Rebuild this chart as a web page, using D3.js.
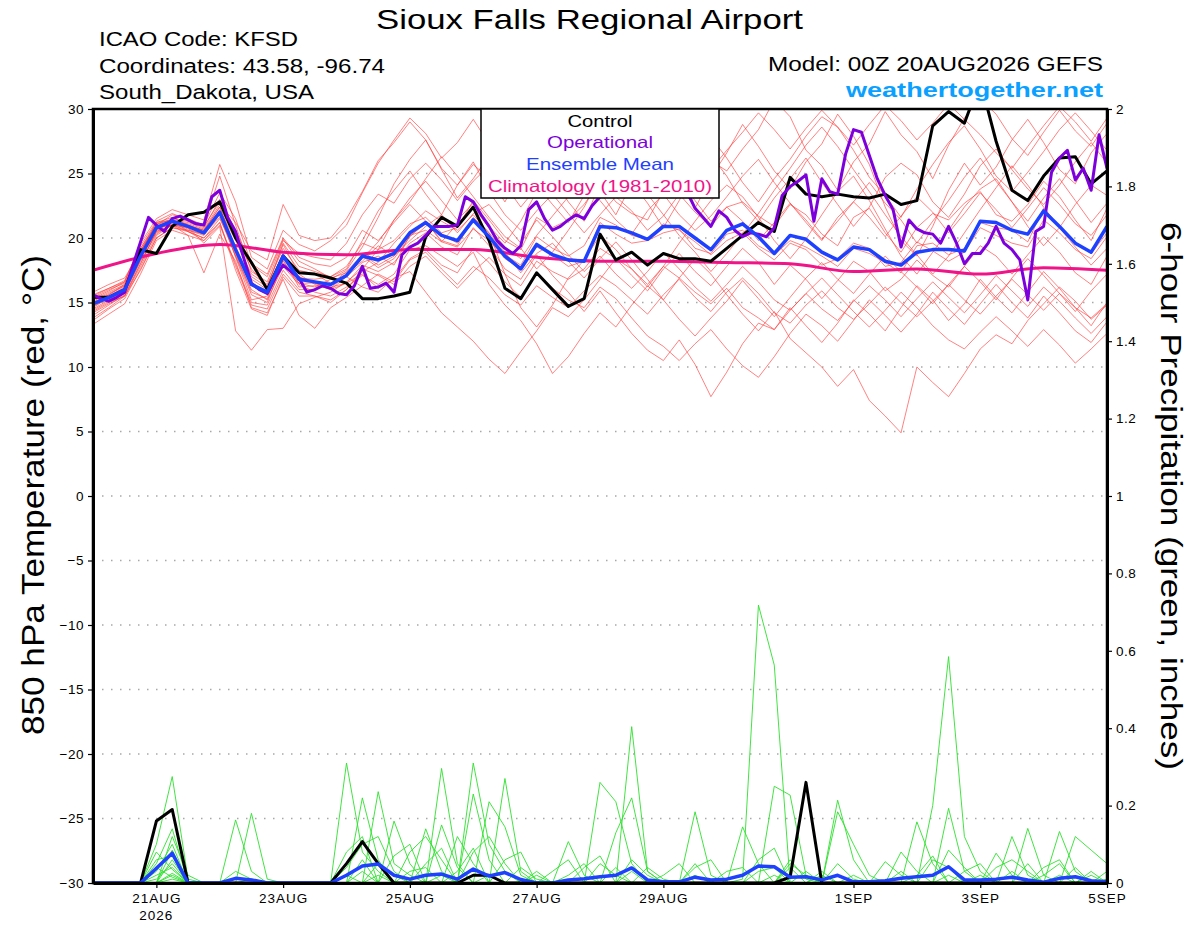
<!DOCTYPE html>
<html>
<head>
<meta charset="utf-8">
<script src="https://d3js.org/d3.v7.min.js"></script>
<style>
body { margin: 0; background: #fff; }
text { font-family: "Liberation Sans", Arial, Helvetica, sans-serif; }
</style>
</head>
<body>
<div id="my_dataviz"></div>
<script>
var controlTemp = [
  15.4,15.4,16.0,19.1,18.8,20.9,21.8,22.0,
  22.8,20.0,18.1,16.0,18.6,17.3,17.2,16.9,
  16.5,15.3,15.3,15.5,15.8,20.1,21.6,20.9,
  22.4,19.8,16.1,15.3,17.3,16.0,14.7,15.3,
  20.3,18.3,18.9,17.9,18.8,18.4,18.4,18.2,
  19.2,20.2,21.2,20.5,24.7,23.4,23.2,23.4,
  23.2,23.1,23.4,22.6,22.9,28.7,29.8,28.9,
  32.2,27.5,23.7,22.9,24.8,26.2,26.3,24.2,
  25.2];

// operational run is 3-hourly
var operationalTemp = [
  15.6,15.3,15.1,15.4,15.8,17.8,19.7,21.6,
  21.0,20.5,21.5,21.7,21.4,21.1,21.0,23.2,
  23.7,21.6,20.5,18.5,16.5,16.0,15.7,16.9,
  17.9,17.4,16.9,15.8,16.0,16.3,16.1,15.7,
  15.6,16.3,17.8,16.1,16.2,16.5,15.8,18.7,
  19.3,19.6,20.2,20.9,20.9,20.9,21.0,23.2,
  22.8,21.8,20.9,19.8,19.2,18.8,19.4,22.2,
  22.8,21.5,20.6,20.9,21.4,21.8,21.5,22.5,
  23.2,23.8,24.3,24.0,24.6,25.0,24.4,24.1,
  24.7,24.3,24.0,23.6,22.3,21.6,20.9,22.1,
  21.6,20.6,20.1,20.4,20.3,20.1,20.8,23.3,
  24.0,24.4,24.9,21.3,24.6,23.6,23.4,26.5,
  28.4,28.2,26.4,24.6,23.3,22.2,19.3,21.4,
  20.7,20.4,20.3,19.6,20.9,19.6,18.0,18.8,
  18.8,19.6,20.9,19.6,19.1,18.3,15.2,20.5,
  20.9,25.1,26.2,26.8,24.5,25.4,23.7,28.0,
  25.4];

var meanTemp = [
  14.9,15.4,16.0,18.6,20.8,21.3,20.9,20.4,
  22.0,19.1,16.4,15.8,18.6,16.8,16.6,16.4,
  17.1,18.6,18.3,18.8,20.4,21.2,20.2,19.8,
  21.4,20.1,18.6,17.6,19.5,18.7,18.3,18.2,
  20.9,20.8,20.4,19.9,20.9,20.9,20.0,19.1,
  20.6,21.1,20.1,18.8,20.2,19.9,18.9,18.3,
  19.3,19.1,18.2,17.9,18.9,19.1,19.1,19.0,
  21.3,21.2,20.6,20.3,22.1,20.9,19.6,18.9,
  20.9];

// climatology, one value per day (00Z)
var climTemp = [17.5,18.8,19.5,18.9,18.7,19.1,19.1,18.5,18.2,18.2,18.1,18.0,17.4,17.6,17.2,17.7,17.5];

var memberTemps = [
  [15.6,16.1,16.6,19.6,21.5,22.2,21.8,21.4, 25.7,22.8,18.5,17.6,20.6,19.5,19.0,19.8,
   21.0,23.5,25.8,27.6,29.3,28.1,26.2,27.4, 29.2,27.3,24.1,22.4,23.9,25.3,27.6,28.9,
   30.6,28.7,27.9,26.1,28.3,29.7,28.2,26.0, 25.2,26.9,28.4,30.7,29.4,26.8,25.6,23.7,
   25.9,27.3,29.8,28.0,26.7,24.6,27.2,29.3, 30.8,29.6,27.7,26.4,28.2,29.9,28.3,27.1, 28.9],
  [14.2,14.9,15.5,18.0,20.5,21.0,20.6,20.2, 21.8,18.6,15.6,15.0,18.2,16.5,16.2,16.8,
   17.5,19.3,21.6,24.2,26.1,27.6,25.3,23.1, 24.6,26.4,27.9,26.2,24.1,22.6,21.2,23.3,
   25.7,27.6,29.4,28.3,26.4,24.2,22.3,24.7, 26.6,28.8,27.1,25.2,23.8,25.9,27.3,29.6,
   27.9,25.7,22.4,19.8,18.6,20.9,23.7,25.8, 24.1,25.5,27.6,29.2,27.4,25.3,24.2,26.6, 28.1],
  [15.0,15.6,16.3,19.2,21.2,21.6,21.0,20.6, 22.4,20.0,17.0,16.2,19.6,17.8,17.4,17.0,
   17.6,19.8,22.1,23.7,25.2,23.4,21.8,24.1, 25.7,24.6,22.8,25.1,26.4,28.2,26.3,24.9,
   23.6,21.8,24.2,25.4,27.1,28.6,29.9,27.8, 26.2,24.3,22.8,24.6,26.1,27.9,29.4,28.6,
   26.8,24.7,23.3,21.6,23.8,25.7,27.4,28.7, 26.9,24.8,23.6,25.1,26.7,28.4,29.7,28.3, 26.8],
  [13.6,14.5,15.3,17.6,20.0,20.8,20.5,20.0, 21.2,17.8,14.8,14.5,17.2,15.8,15.5,15.2,
   16.0,17.6,19.1,21.4,23.1,24.4,22.9,21.4, 22.7,20.9,19.6,21.3,23.6,24.7,22.8,21.3,
   24.2,25.8,24.3,22.7,20.8,22.9,25.2,26.4, 24.8,22.7,21.3,23.1,24.6,26.2,24.3,22.6,
   20.9,22.4,24.7,25.8,24.9,22.8,21.6,23.4, 25.6,26.9,25.3,23.8,22.6,24.1,25.9,27.4, 25.8],
  [15.4,16.0,16.5,19.0,21.0,21.8,21.5,21.0, 23.5,21.5,18.0,17.2,20.0,18.5,18.0,17.8,
   18.5,20.6,19.8,21.2,22.6,21.3,19.7,21.1, 22.4,20.8,19.3,18.4,20.2,21.7,23.2,24.6,
   22.9,21.4,20.3,22.1,23.4,21.8,20.6,21.7, 23.2,24.8,26.1,24.3,22.7,21.2,19.8,21.6,
   22.8,24.3,22.7,21.4,19.6,21.3,22.9,24.7, 26.2,24.4,22.8,21.3,23.1,24.6,22.9,21.2, 22.7],
  [13.8,14.6,15.5,17.8,20.2,21.0,20.5,20.0, 21.5,19.0,16.5,15.8,18.8,16.9,16.8,17.0,
   17.8,19.6,19.1,19.8,21.1,21.6,20.4,20.8, 22.9,21.4,19.8,19.1,21.6,20.8,21.4,22.6,
   24.4,22.8,21.9,21.4,23.6,24.3,22.9,21.3, 22.4,22.8,21.7,20.9,22.6,21.8,20.3,19.4,
   21.6,22.3,20.4,18.9,20.8,21.9,21.4,22.7, 23.6,21.8,21.3,22.6,24.4,23.2,21.4,19.8, 22.3],
  [15.0,15.6,16.4,19.0,21.2,21.4,20.5,19.8, 21.2,17.5,14.5,14.0,17.0,15.5,15.5,15.0,
   16.0,17.4,18.1,19.6,20.9,22.1,21.3,20.6, 21.8,20.4,17.2,14.6,13.1,14.8,16.9,18.3,
   20.2,19.1,17.6,16.2,17.8,19.6,21.3,22.9, 24.1,23.2,21.6,19.8,18.4,19.9,21.8,23.6,
   24.8,22.9,20.7,18.6,17.2,18.9,20.6,22.4, 23.8,24.6,22.8,20.9,19.4,20.8,22.6,24.1, 23.3],
  [14.6,15.4,16.1,18.8,20.6,21.2,21.0,20.6, 22.2,19.8,17.2,16.4,19.2,17.5,17.2,16.5,
   17.0,18.6,17.7,18.4,20.1,21.2,19.8,19.4, 21.6,20.4,18.9,17.3,18.8,19.6,18.2,16.9,
   18.4,19.7,18.3,16.8,15.2,16.9,18.4,17.2, 15.6,14.1,12.8,14.3,12.2,11.1,10.0,8.5,
   9.8,7.4,6.2,4.9,10.0,8.8,7.7,9.5, 11.4,12.5,11.8,13.6,14.9,16.2,15.1,13.7, 14.8],
  [15.3,15.9,16.6,19.2,21.0,21.5,21.3,20.9, 22.8,20.2,17.6,16.2,19.5,17.2,16.4,16.0,
   16.5,17.9,17.4,18.1,19.6,20.4,19.3,18.7, 20.8,19.4,17.6,16.8,18.7,17.1,15.8,14.3,
   15.9,14.2,12.6,11.3,10.5,12.1,10.2,7.7, 9.6,11.8,13.4,12.9,14.6,13.2,11.9,13.4,
   15.2,14.1,12.8,14.6,16.3,15.2,13.6,14.9, 16.8,15.4,14.2,15.8,17.4,16.1,14.6,13.2, 15.0],
  [14.0,14.8,15.6,18.0,20.5,21.0,20.8,20.4, 22.0,18.5,15.2,15.5,18.0,16.5,16.5,16.0,
   17.0,18.1,18.6,17.9,20.2,20.6,19.7,19.3, 20.7,19.8,18.4,17.6,19.3,18.7,17.8,18.2,
   21.2,20.3,19.6,19.8,20.4,20.7,19.2,18.8, 20.3,20.6,19.4,18.7,19.8,19.3,18.6,17.8,
   19.2,18.8,18.1,17.3,19.4,19.6,18.7,19.2, 21.2,20.8,20.6,19.7,22.3,20.9,19.6,18.8, 20.4],
  [15.8,16.4,16.9,19.0,20.8,21.0,20.2,19.8, 21.0,18.0,15.0,14.8,17.5,16.0,16.0,16.5,
   17.0,16.2,15.8,16.9,17.4,15.8,14.2,13.1, 12.0,10.6,9.5,11.2,12.8,14.6,13.9,15.2,
   16.8,18.4,17.1,15.9,17.6,18.8,17.4,16.3, 17.8,19.2,18.1,16.4,17.9,16.8,15.3,16.7,
   18.2,17.4,15.9,16.8,18.3,17.1,16.2,17.8, 19.4,18.6,17.2,18.7,20.1,18.9,17.3,16.4, 18.6],
  [14.3,15.0,15.5,17.5,20.0,20.8,20.6,20.3, 21.6,18.6,16.0,15.2,17.8,16.4,15.8,15.5,
   16.2,17.1,16.4,17.2,19.1,19.4,18.6,17.8, 18.9,16.4,14.8,13.6,11.8,9.5,10.8,12.6,
   14.2,13.1,14.8,16.3,15.2,13.7,12.4,13.8, 15.1,16.7,15.3,13.9,15.4,16.9,18.1,16.8,
   15.7,17.2,18.6,17.4,16.2,14.9,16.4,17.8, 16.6,15.2,16.9,18.4,17.1,15.7,14.3,15.9, 17.2],
  [15.1,15.7,16.3,18.6,20.4,21.0,20.9,20.6, 22.4,19.2,16.8,16.0,18.5,17.0,16.5,16.2,
   16.5,17.2,16.1,16.8,18.4,19.1,17.9,17.3, 19.2,18.1,16.6,15.4,17.3,16.1,15.2,14.6,
   16.2,15.3,13.8,12.4,11.6,10.5,11.8,12.9, 11.4,10.1,9.2,10.8,12.6,14.1,13.2,12.0,
   13.6,15.2,14.0,12.7,14.1,15.8,14.5,13.3, 14.9,16.4,15.0,13.8,15.5,14.2,12.8,11.9, 13.5],
  [14.7,15.3,15.9,18.4,20.7,21.3,21.1,20.7, 22.6,21.2,19.0,18.3,22.6,20.2,19.8,20.0,
   21.5,23.6,26.0,27.4,29.0,27.6,25.4,24.1, 25.9,23.6,21.8,20.6,22.1,23.4,21.9,20.4,
   21.8,23.2,22.1,20.6,21.7,23.4,22.0,20.9, 22.4,21.3,19.8,21.2,22.7,21.4,19.9,21.3,
   22.8,21.6,20.1,21.7,23.2,22.0,20.4,21.9, 23.5,22.2,20.8,22.3,23.9,22.6,21.1,20.2, 21.8],
  [13.3,14.1,14.9,17.2,19.8,20.6,20.2,17.3, 20.3,18.2,14.6,14.2,16.8,14.0,13.0,14.6,
   15.4,16.3,17.2,16.6,18.3,18.9,17.6,16.4, 17.8,16.9,15.6,14.8,16.3,15.4,14.6,15.9,
   17.1,16.3,15.2,14.1,15.6,16.8,15.4,14.3, 15.8,16.9,15.7,14.2,13.4,14.8,15.9,14.6,
   13.7,14.9,16.2,15.0,13.9,15.1,16.4,15.2, 14.1,15.5,16.8,15.6,14.4,15.7,14.6,13.8, 14.9],
  [15.2,15.8,16.4,18.9,21.1,21.4,20.9,20.4, 22.1,18.8,15.8,15.3,18.3,16.2,16.3,16.1,
   17.2,18.4,19.7,21.4,22.8,24.6,26.3,24.8, 23.2,21.6,20.1,19.2,17.6,18.9,20.6,22.4,
   24.7,26.3,25.1,23.4,21.8,20.2,18.9,17.4, 18.8,20.3,21.9,23.7,25.4,27.2,28.6,27.1,
   25.3,23.6,21.8,20.1,18.7,17.2,18.6,20.4, 22.2,23.9,25.6,24.1,22.4,20.8,19.3,17.9, 19.2],
  [14.4,15.1,15.7,18.2,20.3,21.1,20.7,20.3, 21.9,19.4,16.3,15.6,18.6,16.7,16.6,16.4,
   17.4,18.7,17.9,18.6,20.2,21.1,20.3,19.6, 21.3,20.2,18.7,17.9,20.1,19.2,18.6,19.4,
   21.6,21.0,20.2,19.9,21.1,20.6,19.7,18.7, 19.8,20.4,19.2,18.3,19.6,19.1,17.9,18.4,
   19.6,19.2,17.8,18.1,19.7,19.0,18.2,18.9, 20.8,20.2,19.6,19.3,21.4,20.4,19.1,18.4, 20.1],
  [14.9,15.5,16.2,18.7,20.9,21.4,21.2,20.8, 23.0,20.6,17.9,17.0,19.9,18.2,17.6,16.9,
   17.3,18.2,19.4,18.6,19.8,20.9,21.8,20.4, 21.9,22.6,21.1,19.6,21.4,20.1,18.7,17.4,
   18.6,17.2,16.1,17.4,18.9,17.6,16.2,15.1, 16.4,17.8,16.6,15.2,14.4,15.7,16.9,15.6,
   14.3,13.1,14.4,15.8,14.6,13.2,12.1,11.4, 12.7,13.9,12.8,11.6,12.9,11.7,10.3,11.4, 12.6],
  [14.5,15.2,15.8,18.3,20.6,21.2,20.8,19.6, 20.9,12.8,11.3,12.9,13.0,14.9,15.4,15.8,
   16.6,17.6,17.1,16.4,17.8,18.6,17.3,16.1, 17.4,18.5,17.2,16.3,18.2,17.4,16.8,17.6,
   19.2,18.4,17.6,16.4,17.8,16.9,15.8,14.9, 16.1,14.6,13.8,12.9,14.4,15.7,14.5,13.6,
   15.1,16.3,15.2,13.9,15.3,16.6,15.4,14.2, 15.6,17.1,15.9,14.7,16.2,15.1,13.8,12.6, 13.9],
  [15.5,16.1,16.7,19.4,21.3,21.9,21.4,21.0, 24.8,21.0,17.4,16.6,19.8,18.8,18.5,18.3,
   19.6,21.8,23.4,22.7,24.6,25.8,24.5,22.9, 24.4,25.6,27.3,28.6,27.1,25.4,26.8,28.4,
   27.2,25.6,26.9,28.3,29.6,28.1,26.7,25.3, 26.8,28.2,29.7,28.4,26.9,28.5,29.9,28.6,
   27.2,28.8,30.3,29.1,27.6,28.9,30.4,29.2, 28.0,26.6,25.4,27.1,28.7,30.2,29.0,27.5, 29.3]
];

var controlPrecip = [
  0,0,0,0,0.16,0.19,0,0, 0,0,0,0,0,0,0,0,
  0.05,0.107,0.05,0,0,0,0,0, 0.02,0.02,0,0,0,0,0,0,
  0,0,0,0,0,0,0,0, 0,0,0,0,0.015,0.26,0,0,
  0,0,0,0,0,0,0,0, 0,0,0,0,0,0,0,0, 0];

var meanPrecip = [
  0,0,0,0,0.038,0.077,0,0, 0,0.012,0.008,0,0,0,0,0,
  0.02,0.044,0.049,0.02,0.01,0.02,0.023,0.01, 0.036,0.018,0.027,0.009,0,0,0.008,0.011,
  0.016,0.02,0.039,0.008,0.003,0.003,0.015,0.008, 0.01,0.02,0.044,0.042,0.015,0.016,0.008,0.02,
  0.003,0.003,0.006,0.012,0.016,0.02,0.042,0.008, 0.008,0.01,0.015,0.008,0.002,0.012,0.016,0.006, 0.003];

var memberPrecip = [
  [0,0,0,0,.10,.275,.01,0, 0,0,0,0,0,0,0,0, 0,0,0,0,0,0,0,0, 0,0,0,0,0,0,0,0,
   0,0,0,0,0,0,0,0, 0,.01,.718,.563,0,0,0,0, 0,0,0,0,0,0,0,0, 0,0,0,0,.02,.05,0,0, 0],
  [0,0,0,0,.05,.14,0,0, 0,.163,.03,0,0,0,0,0, 0,0,0,0,0,0,.296,.05, 0,0,0,0,0,0,0,0,
   0,0,0,0,0,0,0,0, 0,0,0,0,0,0,0,0, 0,0,0,0,0,.2,.585,.12, .03,0,0,0,0,0,0,0, 0],
  [0,0,0,0,0,.12,.02,0, 0,0,.18,.01,0,0,0,0, .31,.08,.03,0,0,0,0,0, 0,0,0,0,0,0,0,0,
   0,0,.404,.03,0,0,0,0, 0,0,0,0,0,0,0,.05, .01,0,0,0,0,0,0,0, 0,0,0,0,0,0,0,0, 0],
  [0,0,0,0,.03,.10,0,0, 0,0,0,0,0,0,0,0, 0,.22,.06,0,0,0,0,0, .31,.1,.03,0,0,0,0,0,
   0,0,0,0,0,0,.184,.02, 0,0,0,0,0,0,0,0, 0,0,0,0,.158,.05,0,0, 0,0,0,0,0,0,0,0, 0],
  [0,0,0,0,0,.085,0,0, 0,0,0,0,0,0,0,0, 0,0,.236,.05,.02,0,0,0, 0,0,0,0,0,0,0,0,
   .26,.21,.05,0,0,0,0,0, 0,0,0,.25,.227,.02,0,0, 0,0,0,0,0,0,0,0, 0,0,.12,.02,0,0,0,0, 0],
  [0,0,0,0,.06,.07,0,0, 0,0,0,0,0,0,0,0, 0,0,0,.16,.05,0,0,0, 0,0,.27,.03,0,0,0,0,
   0,.13,.22,.03,0,0,0,0, 0,0,0,0,0,0,0,.214, .06,0,0,0,0,0,0,0, 0,0,0,0,0,0,0,0, 0],
  [0,0,0,0,.02,.04,0,0, 0,0,0,0,0,0,0,0, 0,0,0,0,0,.14,.03,0, 0,.21,.145,.02,0,0,0,0,
   0,0,0,0,0,0,0,0, 0,0,0,0,0,0,0,.184, .10,.02,0,0,0,0,.193,.03, 0,0,0,0,0,0,0,0, 0],
  [0,0,0,0,0,.025,0,0, 0,0,0,0,0,0,0,0, .08,.12,0,0,0,0,0,0, .23,.06,0,0,0,0,.107,.02,
   0,0,0,0,0,0,0,0, 0,.145,.05,0,0,0,0,0, 0,0,0,0,0,0,0,0, 0,0,0,.141,.02,0,0,0, 0],
  [0,0,0,0,0,.01,0,0, 0,0,0,0,0,0,0,0, 0,0,0,0,0,0,0,.12, .05,0,0,0,0,.03,.06,0,
   0,0,0,0,0,0,.05,0, 0,0,0,.02,0,0,0,0, 0,0,0,0,0,0,.085,.04, 0,0,0,0,0,.133,.03,0, 0],
  [0,0,0,0,.01,.05,0,0, 0,0,0,0,0,0,0,0, .04,.10,.12,.03,0,0,0,0, 0,0,0,0,.02,0,0,0,
   0,0,0,0,0,0,.04,.06, 0,0,0,0,0,0,0,0, 0,0,0,0,0,0,0,0, 0,0,0,0,0,0,.12,.085, .05],
  [0,0,0,0,0,0,0,0, 0,.03,.01,0,0,0,0,0, 0,0,0,0,.08,.12,.06,0, 0,0,0,0,0,0,0,0,
   .05,.02,0,0,0,0,0,0, 0,0,0,0,.04,0,0,0, 0,0,0,.08,.03,0,0,0, 0,.077,.02,0,0,0,0,0, 0],
  [0,0,0,0,.08,.035,0,0, 0,0,0,0,0,0,0,0, 0,0,.02,0,0,0,.15,.04, 0,0,0,0,0,0,0,.04,
   .07,0,0,0,0,0,0,0, 0,0,.06,.09,0,0,0,0, 0,0,.055,.02,0,0,0,0, 0,0,0,0,0,0,0,.03, 0],
  [0,0,0,0,0,0,0,0, 0,0,0,0,0,0,0,0, 0,.06,0,0,0,0,0,0, .08,.12,.05,0,0,0,0,0,
   0,0,.06,.02,0,0,0,0, 0,0,0,0,0,.03,0,0, 0,0,0,0,0,.06,.04,0, 0,0,0,0,.04,.06,0,0, 0],
  [0,0,0,0,0,.06,0,0, 0,0,0,0,0,0,0,0, 0,0,0,0,0,.05,.09,0, 0,0,0,.04,.01,0,0,0,
   0,0,0,0,.02,.05,0,0, 0,0,0,0,0,0,.02,0, 0,0,0,0,0,0,0,.03, .05,0,0,0,0,0,0,0, .03],
  [0,0,0,0,0,0,0,0, 0,0,0,0,0,0,0,0, .02,0,0,.07,.10,0,0,0, 0,0,0,0,0,0,.02,.05,
   0,0,0,0,0,0,0,0, 0,0,0,0,.05,.02,0,0, 0,0,0,0,0,0,0,0, 0,.04,.06,.03,0,0,0,0, 0],
  [0,0,0,0,0,.02,0,0, 0,0,0,0,0,0,0,0, 0,0,0,0,0,0,0,.03, .09,0,0,0,0,0,0,0,
   0,.04,0,0,0,0,0,0, .03,.04,0,0,0,0,0,0, 0,0,0,0,.02,.07,0,0, 0,0,0,0,0,0,.04,0, 0],
  [0,0,0,0,0,0,0,0, 0,0,.01,0,0,0,0,0, 0,0,.05,.02,0,0,0,0, 0,0,.06,.08,0,0,0,0,
   0,0,0,0,0,0,.02,0, 0,0,0,0,0,0,.03,0, 0,0,0,0,0,0,0,0, .02,0,0,0,0,0,0,.02, 0],
  [0,0,0,0,.04,.015,0,0, 0,0,0,0,0,0,0,0, 0,0,0,0,.03,.04,0,0, 0,0,0,0,.03,0,0,0,
   0,0,0,0,0,0,0,0, 0,0,.03,.04,0,0,0,0, 0,0,0,.03,0,0,0,0, 0,0,0,.05,0,0,0,0, 0],
  [0,0,0,0,0,0,0,0, 0,0,0,0,0,0,0,0, 0,0,0,0,0,0,.02,0, 0,0,0,0,0,0,0,0,
   0,0,0,.04,.01,0,0,0, 0,0,0,0,0,0,0,0, .02,0,0,0,0,0,0,0, 0,0,.03,0,0,.02,0,0, 0],
  [0,0,0,0,0,0,0,0, 0,0,0,0,0,0,0,0, 0,.03,0,0,0,0,0,0, 0,.02,0,0,0,0,0,0,
   0,0,.03,0,0,0,0,0, 0,0,0,0,.06,.01,0,0, 0,0,0,0,0,0,.02,0, 0,0,0,0,0,0,0,0, .01]
];

var tempTicks = [-30,-25,-20,-15,-10,-5,0,5,10,15,20,25,30];
var gridTemps = [-25,-20,-15,-10,-5,0,5,10,15,20,25];
var precipTicks = [0,0.2,0.4,0.6,0.8,1,1.2,1.4,1.6,1.8,2];
var dateTicks = ["2026-08-21","2026-08-23","2026-08-25","2026-08-27","2026-08-29","2026-09-01","2026-09-03","2026-09-05"];
var dateLabels = ["21AUG","23AUG","25AUG","27AUG","29AUG","1SEP","3SEP","5SEP"];
var legendItems = ["Control","Operational","Ensemble Mean","Climatology (1981-2010)"];
var legendColors = ["#000000","#7d00dc","#1e40ff","#f01489"];

// ---- layout ----
var margin = {top: 109, right: 93, bottom: 44, left: 93},
    width = 1014,
    height = 774;

var start = Date.UTC(2026, 7, 20, 0);
var end = Date.UTC(2026, 8, 5, 0);
var hrs6 = d3.range(0, 385, 6);
var hrs3 = d3.range(0, 385, 3);
var hrs24 = d3.range(0, 385, 24);

var root = d3.select("#my_dataviz")
  .append("svg")
    .attr("width", 1200)
    .attr("height", 927);

root.append("rect").attr("width", 1200).attr("height", 927).attr("fill", "#fff");

var svg = root.append("g")
    .attr("transform", "translate(" + margin.left + "," + margin.top + ")");

var x = d3.scaleUtc().domain([start, end]).range([0, width]);
var yT = d3.scaleLinear().domain([-30, 30]).range([height, 0]);
var yP = d3.scaleLinear().domain([0, 2]).range([height, 0]);

function fit(sel, w) {
  sel.attr("textLength", w).attr("lengthAdjust", "spacingAndGlyphs");
}

// dotted grid on temperature levels
svg.selectAll("grid")
  .data(gridTemps)
  .enter()
  .append("line")
    .attr("x1", 0)
    .attr("x2", width)
    .attr("y1", function(d) { return yT(d); })
    .attr("y2", function(d) { return yT(d); })
    .attr("stroke", "#a8a8a8")
    .attr("stroke-width", 1.3)
    .attr("stroke-dasharray", "1.5,7.5");

svg.append("clipPath").attr("id", "plotclip")
  .append("rect").attr("width", width).attr("height", height);

var plot = svg.append("g").attr("clip-path", "url(#plotclip)");

function lineOn(hours, yscale) {
  return d3.line()
    .x(function(d, i) { return x(start + hours[i] * 3600e3); })
    .y(function(d) { return yscale(d); });
}

var t6 = lineOn(hrs6, yT), p6 = lineOn(hrs6, yP);

plot.selectAll("redline")
  .data(memberTemps)
  .enter()
  .append("path")
    .attr("d", t6)
    .attr("fill", "none")
    .attr("stroke", "#ff3b3b")
    .attr("stroke-opacity", 0.8)
    .attr("stroke-width", 0.8);

plot.selectAll("greenline")
  .data(memberPrecip)
  .enter()
  .append("path")
    .attr("d", p6)
    .attr("fill", "none")
    .attr("stroke", "#2ee02e")
    .attr("stroke-width", 0.9);

plot.append("path")
  .attr("d", p6(controlPrecip))
  .attr("fill", "none").attr("stroke", "#000").attr("stroke-width", 3)
  .attr("stroke-linejoin", "round");

plot.append("path")
  .attr("d", p6(meanPrecip))
  .attr("fill", "none").attr("stroke", "#1e40ff").attr("stroke-width", 3.5)
  .attr("stroke-linejoin", "round");

plot.append("path")
  .attr("d", lineOn(hrs24, yT).curve(d3.curveMonotoneX)(climTemp))
  .attr("fill", "none").attr("stroke", "#f01489").attr("stroke-width", 3);

plot.append("path")
  .attr("d", t6(controlTemp))
  .attr("fill", "none").attr("stroke", "#000").attr("stroke-width", 3)
  .attr("stroke-linejoin", "round");

plot.append("path")
  .attr("d", lineOn(hrs3, yT)(operationalTemp))
  .attr("fill", "none").attr("stroke", "#7d00dc").attr("stroke-width", 3)
  .attr("stroke-linejoin", "round");

plot.append("path")
  .attr("d", t6(meanTemp))
  .attr("fill", "none").attr("stroke", "#1e40ff").attr("stroke-width", 3.5)
  .attr("stroke-linejoin", "round");

// frame and axes
svg.append("rect")
  .attr("width", width).attr("height", height)
  .attr("fill", "none").attr("stroke", "#000").attr("stroke-width", 2.5);

var axL = svg.append("g")
  .call(d3.axisLeft(yT).tickValues(tempTicks).tickSize(5).tickSizeOuter(0).tickPadding(4));
var axR = svg.append("g")
  .attr("transform", "translate(" + width + ",0)")
  .call(d3.axisRight(yP).tickValues(precipTicks).tickSize(5).tickSizeOuter(0).tickPadding(4)
    .tickFormat(d3.format("~g")));
var axB = svg.append("g")
  .attr("transform", "translate(0," + height + ")")
  .call(d3.axisBottom(x).tickValues(dateTicks.map(function(d) { return new Date(d + "T00:00:00Z"); }))
    .tickSize(5).tickSizeOuter(0)
    .tickFormat(function(d, i) { return dateLabels[i]; }));

[axL, axR, axB].forEach(function(a) {
  a.select(".domain").attr("stroke-width", 3);
  a.selectAll(".tick line").attr("stroke-width", 1.2);
  a.selectAll("text")
    .style("font-family", "'Liberation Sans', Arial, sans-serif")
    .style("font-size", "13.5px")
    .style("letter-spacing", "0.5px")
    .attr("fill", "#000");
});
axB.selectAll("text").attr("y", 20).attr("dy", null).style("letter-spacing", "1px");

svg.append("text")
  .attr("x", x(new Date(dateTicks[0] + "T00:00:00Z")))
  .attr("y", height + 37)
  .style("text-anchor", "middle")
  .style("font-size", "13.5px")
  .style("letter-spacing", "1px")
  .text("2026");

// legend box
var lg = svg.append("g").attr("transform", "translate(" + (481 - margin.left) + ",0)");
lg.append("rect")
  .attr("width", 238).attr("height", 89)
  .attr("fill", "#fff").attr("stroke", "#000").attr("stroke-width", 1.5);
var legendW = [65, 106, 148, 224];
lg.selectAll("lgtext")
  .data(legendItems)
  .enter()
  .append("text")
    .attr("x", 119)
    .attr("y", function(d, i) { return 17.7 + i * 21.6; })
    .style("text-anchor", "middle")
    .style("font-size", "16.5px")
    .attr("fill", function(d, i) { return legendColors[i]; })
    .attr("textLength", function(d, i) { return legendW[i]; })
    .attr("lengthAdjust", "spacingAndGlyphs")
    .text(function(d) { return d; });

// titles
root.append("text")
  .attr("x", 589.5).attr("y", 28.5)
  .style("text-anchor", "middle").style("font-size", "28px")
  .text("Sioux Falls Regional Airport")
  .call(fit, 427);

root.append("text").attr("x", 99).attr("y", 45.7).style("font-size", "19.5px")
  .text("ICAO Code: KFSD").call(fit, 199);
root.append("text").attr("x", 99).attr("y", 72.7).style("font-size", "19.5px")
  .text("Coordinates: 43.58, -96.74").call(fit, 286);
root.append("text").attr("x", 99).attr("y", 99.3).style("font-size", "19.5px")
  .text("South_Dakota, USA").call(fit, 215);

root.append("text").attr("x", 1103).attr("y", 70.7)
  .style("text-anchor", "end").style("font-size", "19.5px")
  .text("Model: 00Z 20AUG2026 GEFS").call(fit, 335);
root.append("text").attr("x", 1103).attr("y", 96.7)
  .style("text-anchor", "end").style("font-size", "21px").style("font-weight", "bold")
  .attr("fill", "#0aa0ff")
  .text("weathertogether.net").call(fit, 257);

root.append("text")
  .attr("transform", "translate(44,495)rotate(-90)")
  .style("text-anchor", "middle").style("font-size", "31px")
  .text("850 hPa Temperature (red, °C)")
  .call(fit, 480);

root.append("text")
  .attr("transform", "translate(1161,496)rotate(90)")
  .style("text-anchor", "middle").style("font-size", "30px")
  .text("6-hour Precipitation (green, inches)")
  .call(fit, 548);
</script>
</body>
</html>
